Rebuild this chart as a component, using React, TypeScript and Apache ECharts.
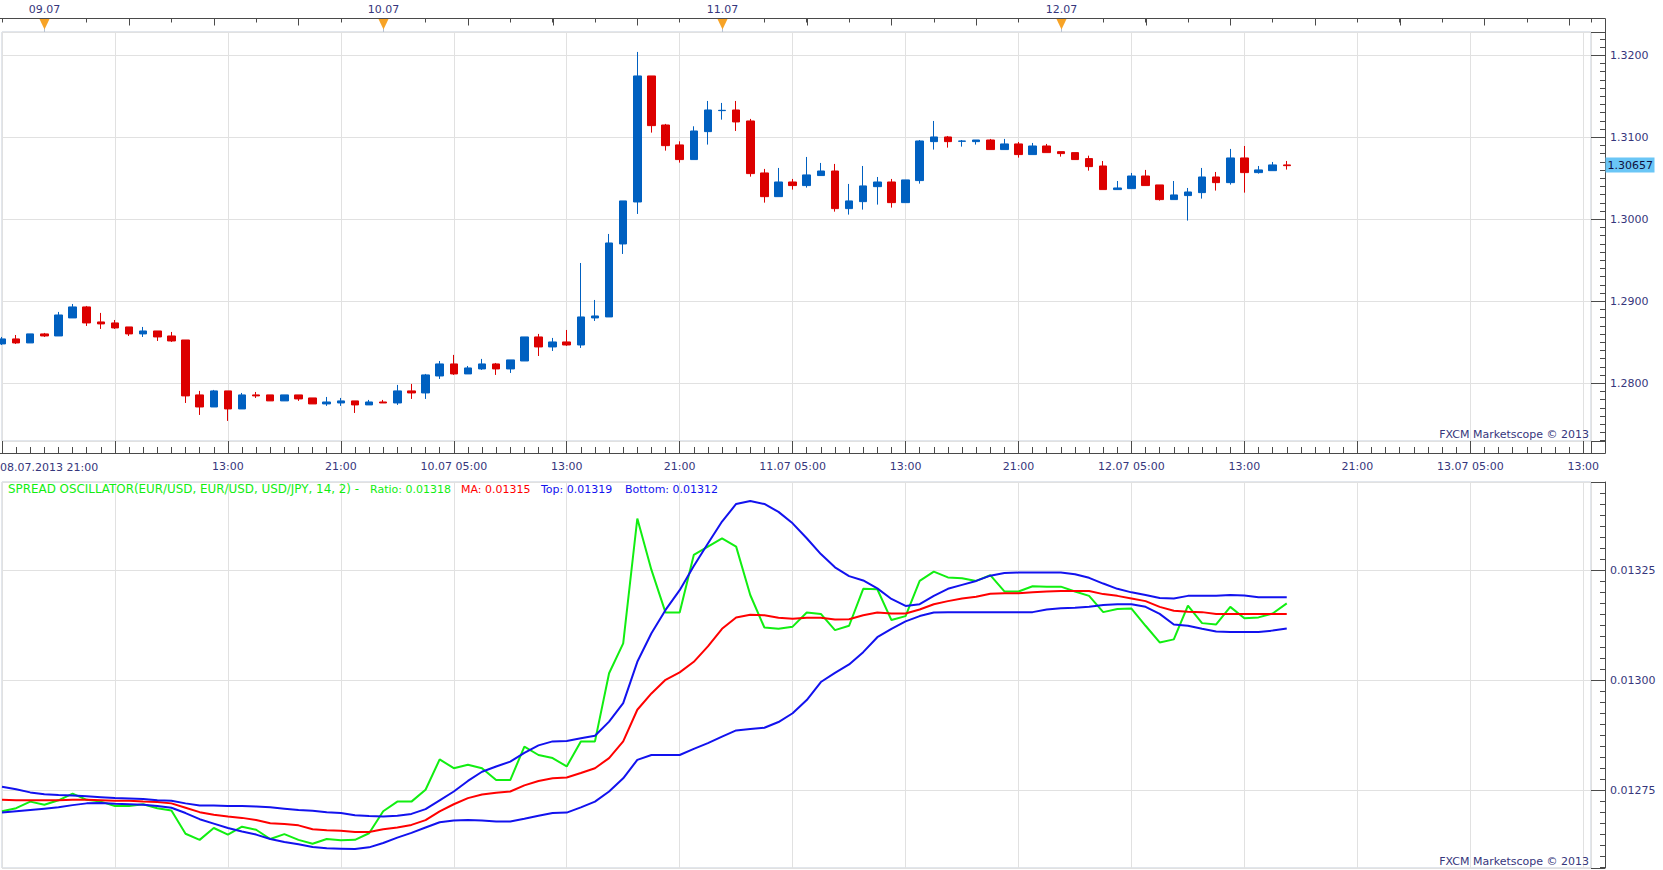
import React, { useEffect, useRef } from 'react';
import * as echarts from 'echarts';

// ---------- DATA (hourly bars, hour 0 = 08.07.2013 21:00) ----------
const startLabel = '08.07.2013 21:00';

const opens = [
  1.28480, 1.28541, 1.28492, 1.28602, 1.28577, 1.28797, 1.28931, 1.28748, 1.28736, 1.28687,
  1.28602, 1.28638, 1.28577, 1.28528, 1.27858, 1.27711, 1.27907, 1.27687, 1.27858, 1.27858,
  1.27785, 1.27858, 1.27821, 1.27748, 1.27760, 1.27785, 1.27736, 1.27772, 1.27760, 1.27907,
  1.27882, 1.28089, 1.28236, 1.28114, 1.28175, 1.28236, 1.28175, 1.28272, 1.28565, 1.28443,
  1.28504, 1.28467, 1.28797, 1.28809, 1.29699, 1.30211, 1.31748, 1.31150, 1.30907, 1.30728,
  1.31069, 1.31325, 1.31333, 1.31199, 1.30565, 1.30276, 1.30455, 1.30411, 1.30533, 1.30589,
  1.30130, 1.30215, 1.30398, 1.30455, 1.30203, 1.30472, 1.30947, 1.31004, 1.30951, 1.30947,
  1.30967, 1.30850, 1.30919, 1.30789, 1.30894, 1.30825, 1.30813, 1.30740, 1.30650, 1.30362,
  1.30374, 1.30528, 1.30419, 1.30240, 1.30289, 1.30325, 1.30516, 1.30447, 1.30748, 1.30569,
  1.30593, 1.30663,
];
const closes = [
  1.28541, 1.28492, 1.28602, 1.28577, 1.28833, 1.28931, 1.28736, 1.28724, 1.28675, 1.28602,
  1.28638, 1.28565, 1.28516, 1.27846, 1.27711, 1.27907, 1.27687, 1.27858, 1.27846, 1.27785,
  1.27858, 1.27809, 1.27748, 1.27772, 1.27785, 1.27736, 1.27772, 1.27760, 1.27907, 1.27882,
  1.28102, 1.28236, 1.28114, 1.28187, 1.28236, 1.28175, 1.28285, 1.28565, 1.28443, 1.28504,
  1.28467, 1.28809, 1.28821, 1.29711, 1.30224, 1.31748, 1.31142, 1.30898, 1.30728, 1.31077,
  1.31333, 1.31329, 1.31187, 1.30557, 1.30276, 1.30455, 1.30411, 1.30541, 1.30589, 1.30130,
  1.30224, 1.30407, 1.30455, 1.30203, 1.30480, 1.30955, 1.31004, 1.30947, 1.30955, 1.30967,
  1.30850, 1.30919, 1.30789, 1.30894, 1.30813, 1.30801, 1.30728, 1.30642, 1.30362, 1.30382,
  1.30528, 1.30411, 1.30240, 1.30297, 1.30333, 1.30516, 1.30447, 1.30748, 1.30569, 1.30602,
  1.30663, 1.30654,
];
const lows = [
  1.28467, 1.28480, 1.28492, 1.28565, 1.28577, 1.28797, 1.28699, 1.28663, 1.28663, 1.28577,
  1.28565, 1.28516, 1.28504, 1.27760, 1.27614, 1.27711, 1.27541, 1.27687, 1.27821, 1.27785,
  1.27785, 1.27785, 1.27748, 1.27724, 1.27724, 1.27638, 1.27736, 1.27760, 1.27736, 1.27809,
  1.27809, 1.28053, 1.28102, 1.28114, 1.28163, 1.28102, 1.28126, 1.28272, 1.28333, 1.28394,
  1.28455, 1.28431, 1.28760, 1.28809, 1.29577, 1.30065, 1.31057, 1.30837, 1.30691, 1.30728,
  1.30911, 1.31215, 1.31077, 1.30520, 1.30203, 1.30276, 1.30362, 1.30386, 1.30533, 1.30093,
  1.30057, 1.30118, 1.30179, 1.30142, 1.30203, 1.30435, 1.30850, 1.30874, 1.30886, 1.30911,
  1.30850, 1.30850, 1.30752, 1.30789, 1.30813, 1.30764, 1.30728, 1.30593, 1.30362, 1.30362,
  1.30374, 1.30411, 1.30228, 1.30240, 1.29984, 1.30252, 1.30350, 1.30423, 1.30325, 1.30557,
  1.30593, 1.30606,
];
const highs = [
  1.28565, 1.28589, 1.28602, 1.28614, 1.28870, 1.28967, 1.28943, 1.28858, 1.28772, 1.28687,
  1.28687, 1.28638, 1.28626, 1.28528, 1.27907, 1.27919, 1.27907, 1.27882, 1.27894, 1.27858,
  1.27858, 1.27858, 1.27821, 1.27833, 1.27821, 1.27785, 1.27797, 1.27797, 1.27980, 1.27992,
  1.28114, 1.28272, 1.28346, 1.28211, 1.28297, 1.28248, 1.28285, 1.28565, 1.28602, 1.28553,
  1.28650, 1.29467, 1.29016, 1.29821, 1.30224, 1.32041, 1.31748, 1.31163, 1.30951, 1.31134,
  1.31443, 1.31419, 1.31443, 1.31224, 1.30614, 1.30626, 1.30492, 1.30760, 1.30687, 1.30675,
  1.30431, 1.30650, 1.30516, 1.30492, 1.30480, 1.30967, 1.31199, 1.31016, 1.30967, 1.30967,
  1.30980, 1.30980, 1.30943, 1.30931, 1.30919, 1.30825, 1.30813, 1.30776, 1.30711, 1.30467,
  1.30565, 1.30602, 1.30419, 1.30467, 1.30382, 1.30626, 1.30577, 1.30858, 1.30894, 1.30650,
  1.30699, 1.30711,
];

const ratio = [
  0.012702, 0.012709, 0.012724, 0.012717, 0.012727, 0.012742, 0.012728, 0.012724, 0.012714, 0.012714,
  0.012718, 0.012709, 0.012704, 0.012651, 0.012637, 0.012664, 0.012649, 0.012667, 0.012660, 0.012639,
  0.012650, 0.012637, 0.012628, 0.012639, 0.012636, 0.012637, 0.012652, 0.012702, 0.012724, 0.012724,
  0.012751, 0.012820, 0.012800, 0.012808, 0.012800, 0.012773, 0.012773, 0.012849, 0.012830, 0.012823,
  0.012804, 0.012861, 0.012861, 0.013016, 0.013084, 0.013368, 0.013251, 0.013154, 0.013154, 0.013285,
  0.013304, 0.013323, 0.013304, 0.013194, 0.013120, 0.013117, 0.013122, 0.013154, 0.013151, 0.013114,
  0.013124, 0.013208, 0.013207, 0.013137, 0.013146, 0.013226, 0.013247, 0.013234, 0.013232, 0.013226,
  0.013239, 0.013202, 0.013202, 0.013214, 0.013213, 0.013213, 0.013202, 0.013192, 0.013155, 0.013162,
  0.013163, 0.013124, 0.013086, 0.013093, 0.013170, 0.013130, 0.013127, 0.013167, 0.013141, 0.013143,
  0.013152, 0.013175,
];
const ma = [
  0.012728, 0.012727, 0.012727, 0.012727, 0.012727, 0.012728, 0.012728, 0.012727, 0.012726, 0.012726,
  0.012724, 0.012723, 0.012720, 0.012710, 0.012700, 0.012694, 0.012690, 0.012687, 0.012682, 0.012675,
  0.012673, 0.012670, 0.012661, 0.012659, 0.012658, 0.012655, 0.012655, 0.012661, 0.012665, 0.012671,
  0.012682, 0.012702, 0.012718, 0.012732, 0.012740, 0.012744, 0.012747, 0.012761, 0.012771, 0.012777,
  0.012779, 0.012789, 0.012800, 0.012823, 0.012861, 0.012933, 0.012970, 0.013001, 0.013018, 0.013042,
  0.013077, 0.013117, 0.013143, 0.013149, 0.013148, 0.013142, 0.013140, 0.013142, 0.013142, 0.013138,
  0.013139, 0.013148, 0.013154, 0.013152, 0.013152, 0.013161, 0.013173, 0.013180, 0.013186, 0.013190,
  0.013197, 0.013198, 0.013198, 0.013200, 0.013202, 0.013203, 0.013203, 0.013203, 0.013196, 0.013192,
  0.013186, 0.013180, 0.013167, 0.013158, 0.013156, 0.013155, 0.013151, 0.013151, 0.013151, 0.013151,
  0.013151, 0.013151,
];
const topBand = [
  0.012758, 0.012752, 0.012745, 0.012741, 0.012739, 0.012738, 0.012736, 0.012734, 0.012732, 0.012731,
  0.012730, 0.012727, 0.012726, 0.012720, 0.012715, 0.012715, 0.012714, 0.012714, 0.012713, 0.012711,
  0.012708, 0.012705, 0.012703, 0.012700, 0.012698, 0.012693, 0.012691, 0.012690, 0.012692, 0.012696,
  0.012707, 0.012727, 0.012747, 0.012771, 0.012792, 0.012804, 0.012815, 0.012835, 0.012852, 0.012861,
  0.012862, 0.012868, 0.012874, 0.012906, 0.012948, 0.013042, 0.013107, 0.013160, 0.013205, 0.013260,
  0.013311, 0.013361, 0.013401, 0.013408, 0.013401, 0.013383, 0.013357, 0.013323, 0.013287, 0.013257,
  0.013237, 0.013227, 0.013209, 0.013185, 0.013169, 0.013173, 0.013192, 0.013208, 0.013217, 0.013226,
  0.013238, 0.013244, 0.013245, 0.013245, 0.013245, 0.013245, 0.013241, 0.013233, 0.013220, 0.013208,
  0.013200, 0.013194, 0.013187, 0.013186, 0.013192, 0.013192, 0.013192, 0.013194, 0.013193, 0.013189,
  0.013189, 0.013189,
];
const bottomBand = [
  0.012699, 0.012702, 0.012705, 0.012708, 0.012711, 0.012716, 0.012720, 0.012721, 0.012719, 0.012718,
  0.012717, 0.012714, 0.012710, 0.012698, 0.012684, 0.012674, 0.012664, 0.012656, 0.012649, 0.012639,
  0.012632, 0.012627, 0.012621, 0.012618, 0.012617, 0.012616, 0.012620, 0.012630, 0.012642, 0.012653,
  0.012665, 0.012677, 0.012681, 0.012682, 0.012681, 0.012679, 0.012679, 0.012685, 0.012692, 0.012698,
  0.012699, 0.012711, 0.012724, 0.012747, 0.012777, 0.012819, 0.012830, 0.012830, 0.012830, 0.012844,
  0.012857, 0.012872, 0.012886, 0.012889, 0.012892, 0.012905, 0.012925, 0.012955, 0.012996, 0.013017,
  0.013036, 0.013064, 0.013098, 0.013117, 0.013134, 0.013146, 0.013154, 0.013155, 0.013155, 0.013155,
  0.013155, 0.013155, 0.013155, 0.013155, 0.013161, 0.013164, 0.013165, 0.013167, 0.013171, 0.013173,
  0.013173, 0.013167, 0.013151, 0.013127, 0.013124, 0.013117, 0.013111, 0.013110, 0.013110, 0.013110,
  0.013113, 0.013118,
];

const timeTickHours = [16, 24, 32, 40, 48, 56, 64, 72, 80, 88, 96, 104, 112];
const timeTickLabels = ['13:00', '21:00', '10.07 05:00', '13:00', '21:00', '11.07 05:00', '13:00', '21:00', '12.07 05:00', '13:00', '21:00', '13.07 05:00', '13:00'];
const dayHours = [3, 27, 51, 75];
const dayLabels = ['09.07', '10.07', '11.07', '12.07'];
const lastPrice = 1.30657;
const legendTitle = 'SPREAD OSCILLATOR(EUR/USD, EUR/USD, USD/JPY, 14, 2) -';
const legendRatio = 'Ratio: 0.01318';
const legendMA = 'MA: 0.01315';
const legendTop = 'Top: 0.01319';
const legendBottom = 'Bottom: 0.01312';
const watermark = 'FXCM Marketscope \u00A9 2013';

// ---------- STYLE / LAYOUT ----------
const FONT = '"DejaVu Sans", Verdana, sans-serif';
const TEXT = '#36367c';
const AXIS = '#4a4a4a';
const GRIDLINE = '#e1e1e1';
const FRAME = '#c4cdd9';
const C_UP = '#0060c0';
const C_DOWN = '#dc0000';
const L_GREEN = '#11ee11';
const L_RED = '#ff0000';
const L_BLUE = '#1212ee';

const X_MIN = 0;
const X_MAX = 112.55;
const Y0_MIN = 1.27296;
const Y0_MAX = 1.32284;
const Y1_MIN = 0.012573;
const Y1_MAX = 0.013451;

const G0_TOP = 32;
const G0_BOTTOM_EDGE = 441;
const G1_TOP = 482;
const G1_BOTTOM_EDGE = 868;
const PLOT_LEFT = 2;
const PLOT_RIGHT_EDGE = 1591;
const AXIS_OFF_Y = 14;
const AXIS_OFF_X = 12;
const TOP_AXIS_OFF = 13.5;

export default function App() {
  const ref = useRef<HTMLDivElement>(null);

  useEffect(() => {
    if (!ref.current) return;
    const W = 1663;
    const H = 870;
    const chart = echarts.init(ref.current, undefined, { renderer: 'svg', width: W, height: H });

    const candleData = opens.map((o, i) => [i, o, closes[i], lows[i], highs[i]]);
    const toLine = (arr: number[]) => arr.map((v, i) => [i, v]);

    const dateMarks: number[][] = [];
    for (let h = 3; h < X_MAX; h += 6) {
      const d = dayHours.indexOf(h);
      dateMarks.push([h, d >= 0 ? 2 : 1, d]);
    }

    const xLabelFmt = (v: number) => {
      if (Math.abs(v - Math.round(v)) > 1e-6) return '';
      const idx = timeTickHours.indexOf(Math.round(v));
      return idx >= 0 ? timeTickLabels[idx] : '';
    };

    const yAxisCommon = {
      position: 'right',
      offset: AXIS_OFF_Y,
      axisLine: { show: true, onZero: false, lineStyle: { color: AXIS, width: 1 } },
      axisTick: { show: true, inside: true, length: AXIS_OFF_Y, lineStyle: { color: AXIS } },
      minorTick: { show: true, splitNumber: 10, length: 5, lineStyle: { color: AXIS } },
      splitLine: { show: true, lineStyle: { color: GRIDLINE, width: 1 } },
      minorSplitLine: { show: false },
    };

    const option: any = {
      animation: false,
      backgroundColor: '#ffffff',
      textStyle: { fontFamily: FONT, fontSize: 11 },
      grid: [
        {
          left: PLOT_LEFT, right: W - PLOT_RIGHT_EDGE, top: G0_TOP, bottom: H - G0_BOTTOM_EDGE,
          show: true, borderColor: FRAME, borderWidth: 1, backgroundColor: 'transparent',
          containLabel: false, outerBoundsMode: 'none',
        },
        {
          left: PLOT_LEFT, right: W - PLOT_RIGHT_EDGE, top: G1_TOP, bottom: H - G1_BOTTOM_EDGE,
          show: true, borderColor: FRAME, borderWidth: 1, backgroundColor: 'transparent',
          containLabel: false, outerBoundsMode: 'none',
        },
      ],
      xAxis: [
        {
          type: 'value', gridIndex: 0, position: 'bottom', offset: AXIS_OFF_X,
          min: X_MIN, max: X_MAX, interval: 8,
          axisLine: { show: true, onZero: false, lineStyle: { color: AXIS, width: 1 } },
          axisTick: { show: true, inside: true, length: AXIS_OFF_X, lineStyle: { color: AXIS } },
          minorTick: { show: true, splitNumber: 8, length: 6, lineStyle: { color: AXIS } },
          axisLabel: {
            show: true, margin: 8, color: TEXT, fontSize: 11, fontFamily: FONT,
            formatter: xLabelFmt, hideOverlap: false, showMinLabel: true, showMaxLabel: true,
          },
          splitLine: { show: true, lineStyle: { color: GRIDLINE, width: 1 } },
        },
        {
          type: 'value', gridIndex: 1, position: 'bottom',
          min: X_MIN, max: X_MAX, interval: 8,
          axisLine: { show: false, onZero: false },
          axisTick: { show: false },
          axisLabel: { show: false },
          splitLine: { show: true, lineStyle: { color: GRIDLINE, width: 1 } },
        },
        {
          type: 'value', gridIndex: 0, position: 'top', offset: TOP_AXIS_OFF,
          min: X_MIN, max: X_MAX, interval: 3,
          axisLine: { show: false, onZero: false },
          axisTick: { show: true, inside: true, length: 4, lineStyle: { color: AXIS } },
          axisLabel: { show: false },
          splitLine: { show: false },
        },
      ],
      yAxis: [
        {
          type: 'value', gridIndex: 0, ...yAxisCommon,
          min: Y0_MIN, max: Y0_MAX, minInterval: 0.01, maxInterval: 0.01, splitNumber: 5,
          axisLabel: {
            show: true, margin: 5, color: TEXT, fontSize: 11, fontFamily: FONT,
            showMinLabel: false, showMaxLabel: false, hideOverlap: false,
            formatter: (v: number) => v.toFixed(4),
          },
        },
        {
          type: 'value', gridIndex: 1, ...yAxisCommon,
          min: Y1_MIN, max: Y1_MAX, minInterval: 0.00025, maxInterval: 0.00025, splitNumber: 4,
          axisLabel: {
            show: true, margin: 5, color: TEXT, fontSize: 11, fontFamily: FONT,
            showMinLabel: false, showMaxLabel: false, hideOverlap: false,
            formatter: (v: number) => v.toFixed(5),
          },
        },
      ],
      series: [
        {
          name: 'EUR/USD', type: 'candlestick', xAxisIndex: 0, yAxisIndex: 0,
          data: candleData, encode: { x: 0, y: [1, 2, 3, 4] },
          barWidth: 8,
          itemStyle: { color: C_UP, color0: C_DOWN, borderColor: C_UP, borderColor0: C_DOWN, borderWidth: 1 },
          z: 3,
        },
        {
          name: 'dates', type: 'custom', xAxisIndex: 0, yAxisIndex: 0, silent: true, clip: false, z: 10,
          data: dateMarks, encode: { x: 0 },
          renderItem: (params: any, api: any) => {
            const h = api.value(0);
            const kind = api.value(1);
            const idx = api.value(2);
            const cs = params.coordSys;
            const x = Math.round(api.coord([h, 1.3])[0]) + 0.5;
            const lineY = cs.y - TOP_AXIS_OFF;
            const children: any[] = [
              { type: 'line', shape: { x1: x, y1: lineY, x2: x, y2: lineY + 7 }, style: { stroke: AXIS, lineWidth: 1 } },
            ];
            if (kind === 2) {
              children.push({ type: 'line', shape: { x1: x, y1: lineY + 9, x2: x, y2: cs.y }, style: { stroke: '#b7c2d2', lineWidth: 1 } });
              children.push({
                type: 'polygon',
                shape: { points: [[x - 5, lineY + 0.5], [x + 5, lineY + 0.5], [x, lineY + 11]] },
                style: { fill: '#f7a326' },
              });
              children.push({
                type: 'text',
                style: {
                  text: dayLabels[idx], x: x, y: lineY - 9,
                  align: 'center', verticalAlign: 'middle', textAlign: 'center', textVerticalAlign: 'middle',
                  fill: TEXT, font: '11px ' + FONT,
                },
              });
            }
            return { type: 'group', children };
          },
        },
        {
          name: 'Ratio', type: 'line', xAxisIndex: 1, yAxisIndex: 1, data: toLine(ratio),
          showSymbol: false, symbol: 'none', lineStyle: { color: L_GREEN, width: 2 }, z: 3,
        },
        {
          name: 'MA', type: 'line', xAxisIndex: 1, yAxisIndex: 1, data: toLine(ma),
          showSymbol: false, symbol: 'none', lineStyle: { color: L_RED, width: 2 }, z: 4,
        },
        {
          name: 'Top', type: 'line', xAxisIndex: 1, yAxisIndex: 1, data: toLine(topBand),
          showSymbol: false, symbol: 'none', lineStyle: { color: L_BLUE, width: 2 }, z: 5,
        },
        {
          name: 'Bottom', type: 'line', xAxisIndex: 1, yAxisIndex: 1, data: toLine(bottomBand),
          showSymbol: false, symbol: 'none', lineStyle: { color: L_BLUE, width: 2 }, z: 5,
        },
      ],
    };

    chart.setOption(option);

    const py = chart.convertToPixel({ yAxisIndex: 0 }, lastPrice) as number;
    const axisX = PLOT_RIGHT_EDGE + AXIS_OFF_Y + 0.5;
    const topLineY = G0_TOP - TOP_AXIS_OFF;
    const timeLineY = G0_BOTTOM_EDGE + AXIS_OFF_X + 0.5;
    const txt = (x: number, y: number, text: string, fill: string, align: string, size = 11) => ({
      type: 'text', x, y, silent: true, z: 20,
      style: {
        text, fill, font: size + 'px ' + FONT,
        align, verticalAlign: 'middle', textAlign: align, textVerticalAlign: 'middle',
      },
    });

    chart.setOption({
      graphic: [
        { type: 'line', silent: true, z: 20, shape: { x1: 0, y1: topLineY, x2: axisX, y2: topLineY }, style: { stroke: AXIS, lineWidth: 1 } },
        { type: 'line', silent: true, z: 20, shape: { x1: axisX, y1: topLineY, x2: axisX, y2: timeLineY }, style: { stroke: AXIS, lineWidth: 1 } },
        { type: 'line', silent: true, z: 20, shape: { x1: 0, y1: timeLineY, x2: axisX, y2: timeLineY }, style: { stroke: AXIS, lineWidth: 1 } },
        {
          type: 'rect', silent: true, z: 20,
          shape: { x: axisX, y: Math.round(py) - 7.5, width: 49, height: 15 },
          style: { fill: '#6ac6f6' },
        },
        txt(axisX + 2, Math.round(py), lastPrice.toFixed(5), '#101040', 'left'),
        txt(0, G0_BOTTOM_EDGE + 26, startLabel, TEXT, 'left'),
        txt(PLOT_RIGHT_EDGE - 2, G0_BOTTOM_EDGE - 7, watermark, TEXT, 'right'),
        txt(PLOT_RIGHT_EDGE - 2, G1_BOTTOM_EDGE - 7, watermark, TEXT, 'right'),
        txt(8, G1_TOP + 7, legendTitle, L_GREEN, 'left', 11.9),
        txt(370, G1_TOP + 7, legendRatio, L_GREEN, 'left'),
        txt(461, G1_TOP + 7, legendMA, L_RED, 'left'),
        txt(541, G1_TOP + 7, legendTop, L_BLUE, 'left'),
        txt(625, G1_TOP + 7, legendBottom, L_BLUE, 'left'),
      ],
    });

    return () => {
      chart.dispose();
    };
  }, []);

  return (
    <div
      ref={ref}
      style={{ position: 'absolute', left: 0, top: 0, width: 1663, height: 870, background: '#fff' }}
    />
  );
}
